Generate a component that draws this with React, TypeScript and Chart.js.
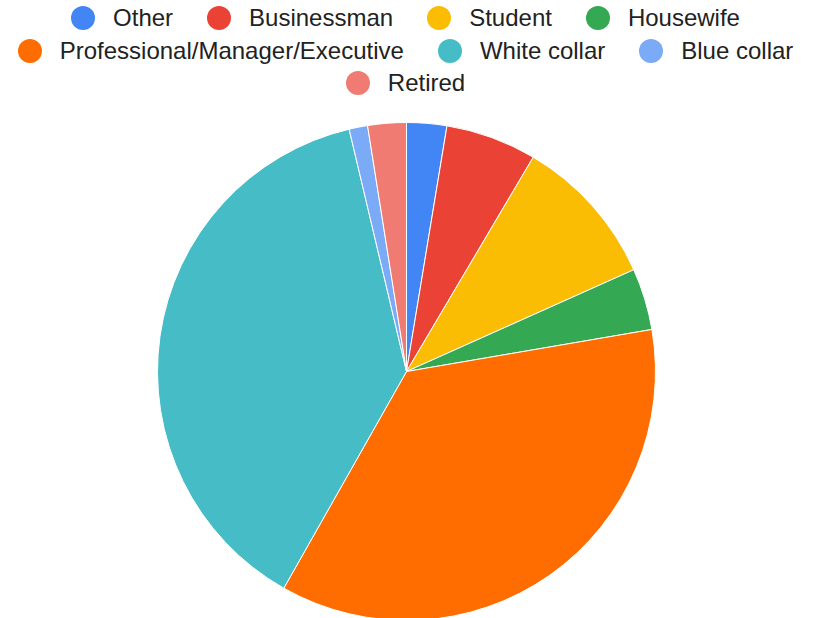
import React, { useEffect, useRef } from "react";
import { Chart, registerables } from "chart.js";

Chart.register(...registerables);

const categories = [
  "Other",
  "Businessman",
  "Student",
  "Housewife",
  "Professional/Manager/Executive",
  "White collar",
  "Blue collar",
  "Retired",
];
const shares = [2.6, 5.9, 9.8, 4.0, 35.9, 38.1, 1.2, 2.5];
const colors = [
  "#4285F4",
  "#EA4335",
  "#FBBC04",
  "#34A853",
  "#FF6D01",
  "#46BDC6",
  "#7BAAF7",
  "#F07B72",
];
const legendRows = [
  [0, 1, 2, 3],
  [4, 5, 6],
  [7],
];

export default function App() {
  const canvasRef = useRef<HTMLCanvasElement | null>(null);

  useEffect(() => {
    const canvas = canvasRef.current;
    if (!canvas) return;
    const chart = new Chart(canvas, {
      type: "pie",
      data: {
        labels: categories,
        datasets: [
          {
            data: shares,
            backgroundColor: colors,
            borderColor: "#ffffff",
            borderWidth: 1,
          },
        ],
      },
      options: {
        animation: false,
        responsive: false,
        devicePixelRatio: 1,
        layout: { padding: 0 },
        plugins: {
          legend: { display: false },
          tooltip: { enabled: false },
        },
      },
    });
    return () => chart.destroy();
  }, []);

  return (
    <div
      style={{
        position: "fixed",
        left: 0,
        top: 0,
        width: 816,
        height: 618,
        overflow: "hidden",
        background: "#ffffff",
        fontFamily: "'Liberation Sans', Arial, sans-serif",
      }}
    >
      <div style={{ position: "absolute", left: 0, top: 2, width: 811 }}>
        {legendRows.map((row, ri) => (
          <div
            key={ri}
            style={{
              display: "flex",
              justifyContent: "center",
              alignItems: "center",
              height: 32.5,
              gap: 34,
            }}
          >
            {row.map((i) => (
              <div key={i} style={{ display: "flex", alignItems: "center" }}>
                <span
                  style={{
                    display: "inline-block",
                    width: 24,
                    height: 24,
                    borderRadius: "50%",
                    background: colors[i],
                    marginRight: 18,
                  }}
                />
                <span style={{ fontSize: 24, color: "#222222", lineHeight: "32px" }}>
                  {categories[i]}
                </span>
              </div>
            ))}
          </div>
        ))}
      </div>
      <canvas
        ref={canvasRef}
        width={813}
        height={499}
        style={{ position: "absolute", left: 0, top: 122, width: 813, height: 499 }}
      />
    </div>
  );
}
